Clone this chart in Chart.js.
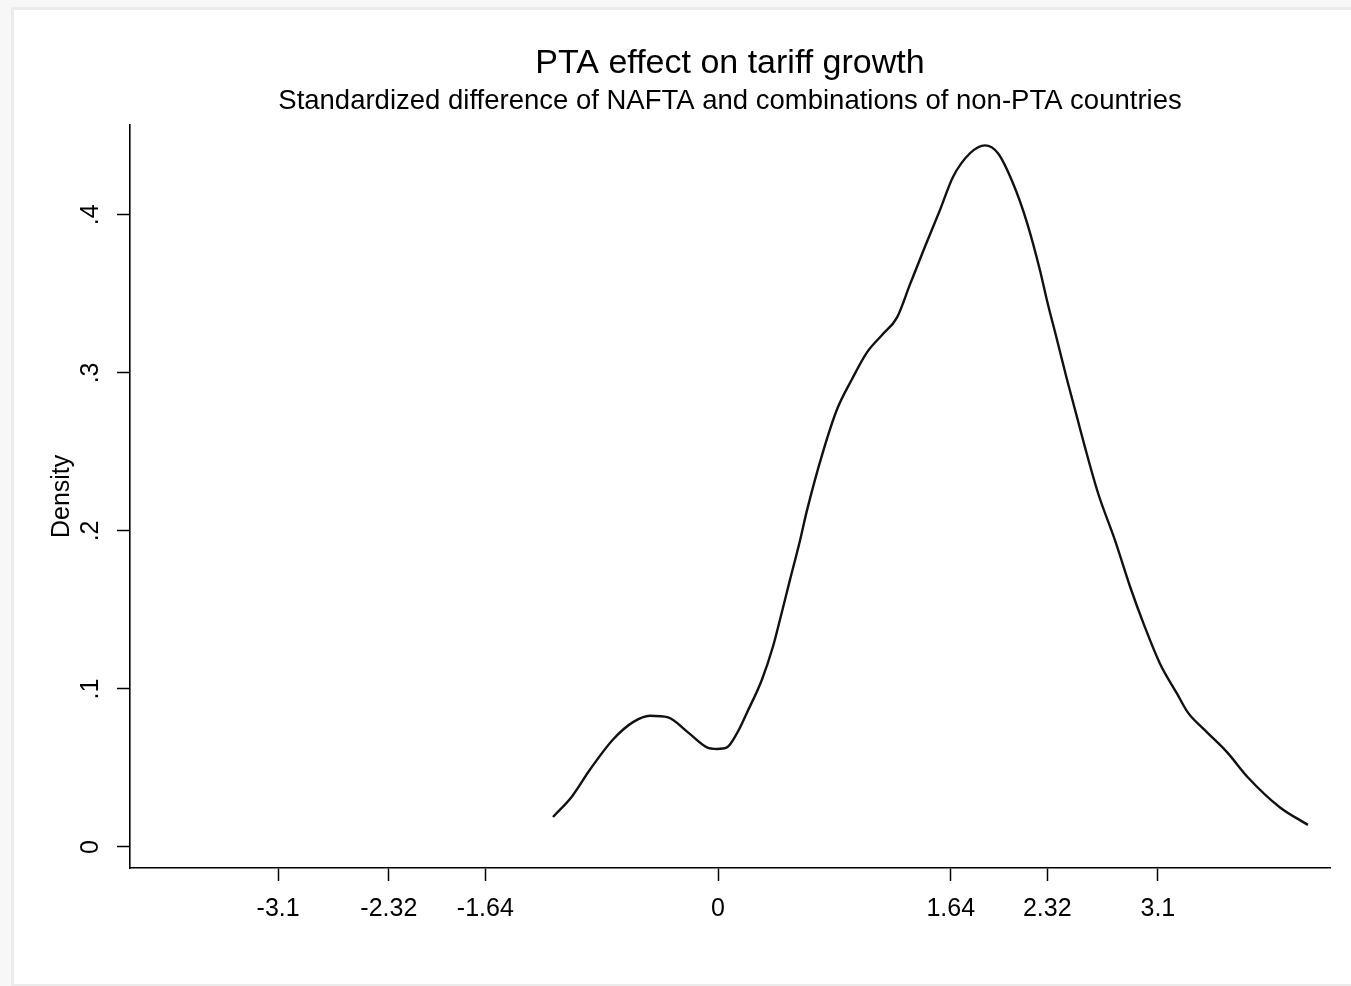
<!DOCTYPE html>
<html>
<head>
<meta charset="utf-8">
<title>PTA effect on tariff growth</title>
<script src="https://cdn.jsdelivr.net/npm/chart.js@4.4.1/dist/chart.umd.min.js"></script>
<style>
  html, body { margin: 0; padding: 0; background: #f7f7f7; overflow: hidden; }
  #frame { position: absolute; left: 11px; top: 7px; width: 1340px; height: 974px; background: #fff;
           border-left: 3px solid #ebebeb; border-top: 3px solid #ebebeb; border-bottom: 3px solid #ebebeb; }
  #chart { position: absolute; left: 0; top: 0; }
</style>
</head>
<body>
<div id="frame"></div>
<canvas id="chart" width="1351" height="986"></canvas>
<script>
const xValues = [-1.163, -1.029, -0.902, -0.740, -0.599, -0.479, -0.352, -0.218, -0.078, -0.007,
  0.063, 0.134, 0.204, 0.310, 0.388, 0.437, 0.507, 0.578, 0.627, 0.733,
  0.839, 0.944, 1.050, 1.156, 1.261, 1.353, 1.459, 1.564, 1.656, 1.776,
  1.882, 1.973, 2.079, 2.178, 2.269, 2.318, 2.389, 2.459, 2.530, 2.586,
  2.678, 2.798, 2.903, 3.009, 3.115, 3.235, 3.312, 3.418, 3.587, 3.735,
  3.961, 4.158];
const densityValues = [0.019, 0.032, 0.049, 0.068, 0.079, 0.083, 0.082, 0.073, 0.063, 0.062,
  0.063, 0.072, 0.085, 0.106, 0.127, 0.144, 0.169, 0.194, 0.213, 0.248,
  0.277, 0.296, 0.313, 0.324, 0.335, 0.356, 0.380, 0.403, 0.424, 0.439,
  0.444, 0.439, 0.420, 0.395, 0.365, 0.346, 0.321, 0.296, 0.272, 0.253,
  0.224, 0.194, 0.165, 0.139, 0.116, 0.097, 0.085, 0.075, 0.060, 0.044,
  0.025, 0.014];

const xTicks = [-3.1, -2.32, -1.64, 0, 1.64, 2.32, 3.1];
const xTickLabels = ['-3.1', '-2.32', '-1.64', '0', '1.64', '2.32', '3.1'];
const yTicks = [0, 0.1, 0.2, 0.3, 0.4];
const yTickLabels = ['0', '.1', '.2', '.3', '.4'];

const FONT = "'Liberation Sans', Arial, Helvetica, sans-serif";
Chart.defaults.font.family = FONT;
Chart.defaults.color = '#000';

const ctx = document.getElementById('chart').getContext('2d');

new Chart(ctx, {
  type: 'line',
  data: {
    datasets: [{
      label: 'Density',
      data: xValues.map((x, i) => ({ x: x, y: densityValues[i] })),
      borderColor: '#111',
      borderWidth: 2.4,
      pointRadius: 0,
      fill: false,
      cubicInterpolationMode: 'monotone'
    }]
  },
  options: {
    responsive: false,
    animation: false,
    layout: { padding: { left: 0, right: 21, top: 0, bottom: 0 } },
    plugins: {
      legend: { display: false },
      tooltip: { enabled: false },
      title: {
        display: true,
        text: 'PTA effect on tariff growth',
        fullSize: false,
        color: '#000',
        font: { size: 34, weight: 'normal' },
        padding: { top: 43, bottom: 0 }
      },
      subtitle: {
        display: true,
        text: 'Standardized difference of NAFTA and combinations of non-PTA countries',
        fullSize: false,
        color: '#000',
        font: { size: 27.5, weight: 'normal' },
        padding: { top: 1, bottom: 7 }
      }
    },
    scales: {
      x: {
        type: 'linear',
        min: -4.144,
        max: 4.313,
        afterBuildTicks: function(axis) {
          axis.ticks = xTicks.map(v => ({ value: v }));
        },
        afterFit: function(scale) {
          scale.height = 118;
        },
        ticks: {
          font: { size: 25 },
          padding: 13,
          maxRotation: 0,
          autoSkip: false,
          callback: function(value) {
            return xTickLabels[xTicks.indexOf(value)];
          }
        },
        grid: { drawOnChartArea: false, drawTicks: true, tickLength: 13, color: '#000', tickWidth: 1.5 },
        border: { display: true, color: '#000', width: 1.6 }
      },
      y: {
        type: 'linear',
        position: 'left',
        min: -0.0133,
        max: 0.457,
        afterBuildTicks: function(axis) {
          axis.ticks = yTicks.map(v => ({ value: v }));
        },
        afterFit: function(scale) {
          scale.width = 130;
        },
        title: {
          display: true,
          text: 'Density',
          font: { size: 25 },
          padding: { top: 47, bottom: 0 }
        },
        ticks: {
          font: { size: 25 },
          minRotation: 90,
          maxRotation: 90,
          crossAlign: 'center',
          padding: 15,
          autoSkip: false,
          callback: function(value) {
            return yTickLabels[yTicks.indexOf(value)];
          }
        },
        grid: { drawOnChartArea: false, drawTicks: true, tickLength: 13, color: '#000', tickWidth: 1.5 },
        border: { display: true, color: '#000', width: 1.6 }
      }
    }
  }
});
</script>
</body>
</html>
